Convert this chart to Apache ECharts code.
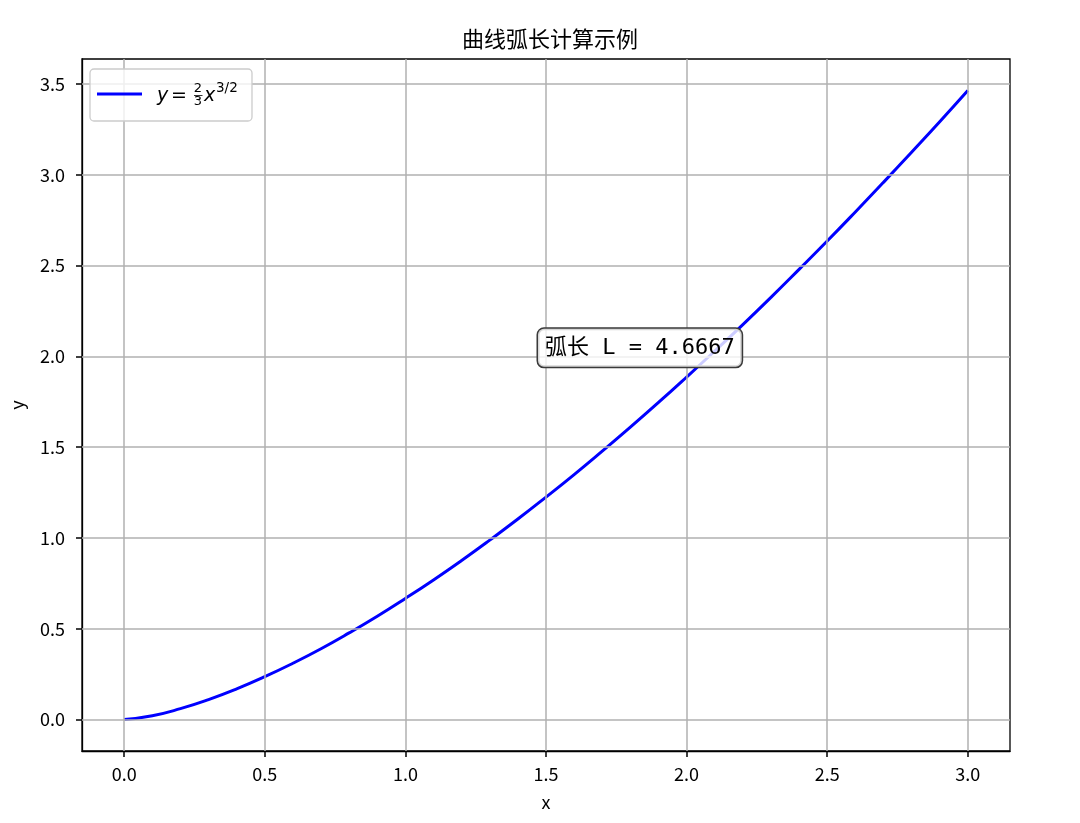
<!DOCTYPE html>
<html>
<head>
<meta charset="utf-8">
<script src="https://cdn.jsdelivr.net/npm/echarts@6/dist/echarts.min.js"></script>
<style>
html,body{margin:0;padding:0;background:#fff;}
#chart{width:1080px;height:823px;}
</style>
</head>
<body>
<div id="chart"></div>
<script>
// Values
const xValues = [0.0,0.1,0.2,0.3,0.4,0.5,0.6,0.7,0.8,0.9,1.0,1.1,1.2,1.3,1.4,1.5,1.6,1.7,1.8,1.9,2.0,2.1,2.2,2.3,2.4,2.5,2.6,2.7,2.8,2.9,3.0];
const yValues = [0.000,0.021,0.060,0.110,0.169,0.236,0.310,0.390,0.477,0.569,0.667,0.769,0.876,0.988,1.104,1.225,1.349,1.478,1.610,1.746,1.886,2.029,2.175,2.325,2.479,2.635,2.795,2.958,3.124,3.292,3.464];
const xTicks = [0.0,0.5,1.0,1.5,2.0,2.5,3.0];
const yTicks = [0.0,0.5,1.0,1.5,2.0,2.5,3.0,3.5];
const xRange = [-0.15, 3.15];
const yRange = [-0.1732, 3.6373];
const titleText = '曲线弧长计算示例';
const annotationPos = [1.5, 2.0];
const annotationText = '弧长 L = 4.6667';

const lineData = xValues.map((x, i) => [x, yValues[i]]);
const tickFont = {fontFamily: 'Noto Sans CJK SC', fontSize: 18, color: '#000'};
const axisLineStyle = {color: '#000', width: 1.3};

const chart = echarts.init(document.getElementById('chart'), null, {renderer: 'canvas'});
const option = {
  animation: false,
  backgroundColor: '#fff',
  title: {
    text: titleText,
    left: 545, top: 23, textAlign: 'center',
    textStyle: {fontFamily: 'Noto Sans CJK SC', fontSize: 22, fontWeight: 'normal', color: '#000'}
  },
  grid: {left: 80, top: 59, width: 930, height: 692, show: true, borderColor: '#000', borderWidth: 1.3, backgroundColor: 'transparent', containLabel: false},
  xAxis: {
    type: 'value', min: xRange[0], max: xRange[1], position: 'bottom',
    name: 'x', nameLocation: 'middle', nameGap: 42,
    nameTextStyle: {fontFamily: 'Noto Sans CJK SC', fontSize: 18, color: '#000'},
    axisLine: {show: true, onZero: false, lineStyle: axisLineStyle},
    axisTick: {show: true, inside: false, length: 6, customValues: xTicks, lineStyle: {color: '#000', width: 1.5}},
    axisLabel: {customValues: xTicks, margin: 14, formatter: v => v.toFixed(1), ...tickFont},
    splitLine: {show: false}
  },
  yAxis: {
    type: 'value', min: yRange[0], max: yRange[1], position: 'left',
    name: 'y', nameLocation: 'middle', nameGap: 56, nameRotate: 90,
    nameTextStyle: {fontFamily: 'Noto Sans CJK SC', fontSize: 18, color: '#000'},
    axisLine: {show: true, onZero: false, lineStyle: axisLineStyle},
    axisTick: {show: true, inside: false, length: 6, customValues: yTicks, lineStyle: {color: '#000', width: 1.5}},
    axisLabel: {customValues: yTicks, margin: 17, formatter: v => v.toFixed(1), ...tickFont},
    splitLine: {show: false}
  },
  series: [
    {
      type: 'line', data: [], z: 1, silent: true,
      markLine: {
        silent: true, symbol: 'none', animation: false,
        label: {show: false},
        lineStyle: {color: '#b0b0b0', width: 1.5, type: 'solid'},
        emphasis: {disabled: true},
        data: xTicks.map(v => ({xAxis: v})).concat(yTicks.map(v => ({yAxis: v})))
      }
    },
    {
      type: 'line', name: 'curve', data: lineData, z: 3,
      showSymbol: false, symbol: 'none', smooth: true,
      lineStyle: {color: '#0000ff', width: 3, cap: 'butt', join: 'round'},
      markPoint: {
        symbol: 'circle', symbolSize: 0, silent: true,
        data: [{coord: annotationPos}],
        label: {
          show: true, position: 'right', distance: 0,
          formatter: annotationText,
          offset: [-8, -8.5],
          fontFamily: 'DejaVu Sans Mono, Noto Sans CJK SC', fontSize: 22, color: '#000',
          lineHeight: 26,
          backgroundColor: 'rgba(255,255,255,0.8)',
          borderColor: '#3a3a3a', borderWidth: 1.5, borderRadius: 6,
          padding: [6, 7, 6, 7]
        }
      }
    }
  ],
  graphic: [
    {type: 'rect', shape: {x: 90, y: 69, width: 162, height: 52, r: 4},
     style: {fill: 'rgba(255,255,255,0.8)', stroke: '#cccccc', lineWidth: 1.3}, z: 100},
    {type: 'line', shape: {x1: 97, y1: 94, x2: 142, y2: 94},
     style: {stroke: '#0000ff', lineWidth: 3}, z: 101},
    {type: 'text', x: 157, y: 96, z: 101,
     style: {text: 'y', font: 'italic 19px "DejaVu Sans"', fill: '#000', verticalAlign: 'middle'}},
    {type: 'text', x: 171, y: 96, z: 101,
     style: {text: '=', font: '19px "DejaVu Sans"', fill: '#000', verticalAlign: 'middle'}},
    {type: 'text', x: 198, y: 89, z: 101,
     style: {text: '2', font: '13px "DejaVu Sans"', fill: '#000', align: 'center', verticalAlign: 'middle'}},
    {type: 'line', shape: {x1: 194, y1: 95.5, x2: 202.5, y2: 95.5}, style: {stroke: '#000', lineWidth: 0.8}, z: 101},
    {type: 'text', x: 198, y: 102, z: 101,
     style: {text: '3', font: '13px "DejaVu Sans"', fill: '#000', align: 'center', verticalAlign: 'middle'}},
    {type: 'text', x: 204, y: 96, z: 101,
     style: {text: 'x', font: 'italic 19px "DejaVu Sans"', fill: '#000', verticalAlign: 'middle'}},
    {type: 'text', x: 216, y: 88, z: 101,
     style: {text: '3/2', font: '13.5px "DejaVu Sans"', fill: '#000', verticalAlign: 'middle'}}
  ]
};
chart.setOption(option);
</script>
</body>
</html>
